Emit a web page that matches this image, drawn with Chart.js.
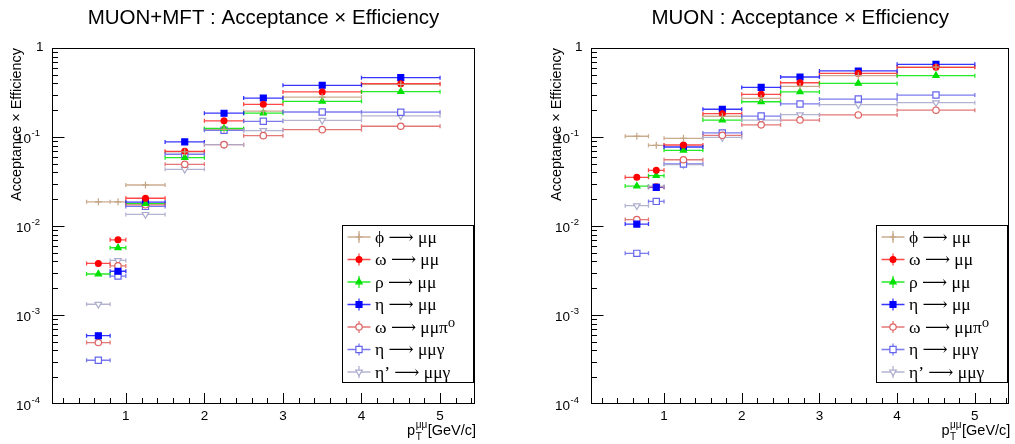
<!DOCTYPE html>
<html><head><meta charset="utf-8">
<script src="https://cdn.jsdelivr.net/npm/chart.js"></script>
<style>
html,body{margin:0;padding:0;background:#fff;width:1015px;height:444px;overflow:hidden}
.box{position:absolute;top:0;height:444px}
#b1{left:0;width:507px} #b2{left:507px;width:508px}
canvas{display:block}
</style></head><body>
<div class="box" id="b1"><canvas id="c1" width="507" height="444"></canvas></div>
<div class="box" id="b2"><canvas id="c2" width="508" height="444"></canvas></div>
<script>
// ---------- data ----------
const binEdges = [0.5, 0.8, 1.0, 1.5, 2.0, 2.5, 3.0, 4.0, 5.0];
const xTickValues = [1, 2, 3, 4, 5];
const yTickValues = [1e-4, 1e-3, 1e-2, 1e-1, 1];
const yTickLabels = ['10^{-4}', '10^{-3}', '10^{-2}', '10^{-1}', '1'];
const panelTitles = ['MUON+MFT : Acceptance \u00D7 Efficiency', 'MUON : Acceptance \u00D7 Efficiency'];
const yAxisTitle = 'Acceptance \u00D7 Efficiency';
const speciesLabels = ['\u03D5 \u27F6 \u03BC\u03BC', '\u03C9 \u27F6 \u03BC\u03BC', '\u03C1 \u27F6 \u03BC\u03BC', '\u03B7 \u27F6 \u03BC\u03BC',
  '\u03C9 \u27F6 \u03BC\u03BC\u03C0\u2070', '\u03B7 \u27F6 \u03BC\u03BC\u03B3', '\u03B7\u2019 \u27F6 \u03BC\u03BC\u03B3'];

// MUON+MFT
const mftPhi         = [0.0187, 0.0187, 0.0289, 0.068, 0.122, 0.195, 0.281, 0.39];
const mftOmega       = [0.0038, 0.0070, 0.0205, 0.069, 0.152, 0.233, 0.321, 0.397];
const mftRho         = [0.00289, 0.0057, 0.0178, 0.0585, 0.125, 0.185, 0.252, 0.323];
const mftEta         = [0.000585, 0.0031, 0.0185, 0.088, 0.185, 0.274, 0.381, 0.464];
const mftOmegaDalitz = [0.00049, 0.00356, 0.0173, 0.0493, 0.082, 0.1035, 0.121, 0.132];
const mftEtaDalitz   = [0.00031, 0.00274, 0.0166, 0.064, 0.119, 0.150, 0.191, 0.19];
const mftEtaPrime    = [0.00132, 0.0041, 0.0135, 0.0433, 0.082, 0.118, 0.154, 0.173];
// MUON
const muPhi          = [0.102, 0.0807, 0.0966, 0.171, 0.272, 0.371, 0.489, 0.61];
const muOmega        = [0.0352, 0.0422, 0.0813, 0.183, 0.302, 0.407, 0.52, 0.607];
const muRho          = [0.0281, 0.0368, 0.0709, 0.155, 0.249, 0.321, 0.40, 0.489];
const muEta          = [0.0105, 0.0272, 0.0772, 0.205, 0.361, 0.472, 0.552, 0.656];
const muOmegaDalitz  = [0.0118, 0.0275, 0.0555, 0.1045, 0.137, 0.155, 0.177, 0.2];
const muEtaDalitz    = [0.00493, 0.0189, 0.0497, 0.111, 0.172, 0.235, 0.267, 0.296];
const muEtaPrime     = [0.0169, 0.028, 0.049, 0.099, 0.155, 0.178, 0.231, 0.243];

// ---------- styles ----------
const seriesStyles = [
  {color:'rgb(196,164,132)', line:'rgba(196,164,132,0.9)', style:'cross', r:3.5, rot:0, fill:false},
  {color:'rgb(255,0,0)',     line:'rgba(255,40,40,0.85)',  style:'circle', r:2.9, rot:0, fill:true},
  {color:'rgb(0,225,0)',     line:'rgba(0,230,0,0.85)',    style:'triangle', r:3.6, rot:0, fill:true},
  {color:'rgb(0,0,255)',     line:'rgba(20,20,255,0.85)',  style:'rect', r:4.2, rot:0, fill:true},
  {color:'rgb(222,96,96)',   line:'rgba(222,96,96,0.85)',  style:'circle', r:3.2, rot:0, fill:false},
  {color:'rgb(100,100,235)', line:'rgba(100,100,235,0.85)',style:'rect', r:4.4, rot:0, fill:false},
  {color:'rgb(172,172,205)', line:'rgba(172,172,205,0.9)', style:'triangle', r:3.8, rot:180, fill:false}
];
const FONT = "'Liberation Sans', Arial, Helvetica, sans-serif";
const SERIF = "'Liberation Serif', 'DejaVu Serif', 'Times New Roman', serif";

function toPoints(vals){ return vals.map((v,i)=>({x:(binEdges[i]+binEdges[i+1])/2, y:v})); }

function drawMarker(ctx, st, x, y){
  ctx.save();
  ctx.strokeStyle = st.color; ctx.fillStyle = st.fill ? st.color : '#fff'; ctx.lineWidth = 1.2;
  const opts = {pointStyle: st.style, rotation: st.rot, radius: st.r, borderWidth: 1.2};
  if (window.Chart && Chart.helpers && Chart.helpers.drawPoint) {
    Chart.helpers.drawPoint(ctx, opts, x, y);
  } else {
    ctx.beginPath(); ctx.arc(x, y, st.r, 0, Math.PI*2); ctx.fill(); ctx.stroke();
  }
  ctx.restore();
}

const errBars = {
  id:'errBars',
  beforeDatasetsDraw(chart){
    const {ctx, chartArea:a, scales:{x, y}} = chart;
    ctx.save();
    ctx.beginPath(); ctx.rect(a.left, a.top, a.right-a.left, a.bottom-a.top); ctx.clip();
    chart.data.datasets.forEach((ds, di)=>{
      const st = seriesStyles[di];
      ctx.strokeStyle = st.line; ctx.lineWidth = 1.3;
      ctx.beginPath();
      ds.data.forEach((p, i)=>{
        const x0 = x.getPixelForValue(binEdges[i]), x1 = x.getPixelForValue(binEdges[i+1]);
        const py = y.getPixelForValue(p.y);
        ctx.moveTo(x0, py); ctx.lineTo(x1, py);
        ctx.moveTo(x0, py-2); ctx.lineTo(x0, py+2);
        ctx.moveTo(x1, py-2); ctx.lineTo(x1, py+2);
      });
      ctx.stroke();
    });
    ctx.restore();
  }
};

const frameTicks = {
  id:'frameTicks',
  afterDraw(chart){
    const {ctx, chartArea:a, scales:{x, y}} = chart;
    ctx.save();
    ctx.strokeStyle = '#000'; ctx.lineWidth = 1;
    const L = Math.round(a.left)+0.5, T = Math.round(a.top)+0.5, R = Math.round(a.right)-0.5, B = Math.round(a.bottom)-0.5;
    ctx.strokeRect(L, T, R-L, B-T);
    ctx.beginPath();
    for (let k = Math.ceil(x.min/0.2 - 1e-9); k*0.2 <= x.max + 1e-9; k++){
      const v = k*0.2;
      const px = Math.round(x.getPixelForValue(v)) + 0.5;
      const major = Math.abs(v - Math.round(v)) < 1e-6;
      ctx.moveTo(px, B); ctx.lineTo(px, B - (major ? 10.5 : 5.5));
    }
    for (let n = -4; n < 0; n++) for (let m = 1; m < 10; m++){
      const v = m * Math.pow(10, n);
      if (n === -4 && m === 1) continue;
      const py = Math.round(y.getPixelForValue(v)) + 0.5;
      ctx.moveTo(L, py); ctx.lineTo(L + (m === 1 ? 12 : 5.5), py);
    }
    ctx.stroke();
    // y tick labels (10^{n} with raised exponent), placed through the y scale
    ctx.fillStyle = '#000'; ctx.textBaseline = 'middle'; ctx.textAlign = 'right';
    yTickValues.forEach((v, i)=>{
      const py = y.getPixelForValue(v);
      const lab = yTickLabels[i];
      const m = lab.match(/^(.*)\^\{(.*)\}$/);
      if (m) {
        ctx.font = '9.5px ' + FONT;
        const ew = ctx.measureText(m[2]).width;
        const xr = a.left - 12;
        ctx.fillText(m[2], xr, py - 4);
        ctx.font = '13.5px ' + FONT;
        ctx.fillText(m[1], xr - ew - 0.5, py + 2);
      } else {
        ctx.font = '13.5px ' + FONT;
        ctx.fillText(lab, a.left - 8.5, py - 0.5);
      }
    });
    ctx.restore();
  }
};

const boxLegend = {
  id:'boxLegend',
  afterDraw(chart){
    const {ctx, chartArea:a} = chart;
    const bx = Math.round(a.right) - 132.5, by = Math.round(a.bottom) - 178.5, bw = 131, bh = 157;
    ctx.save();
    ctx.fillStyle = '#fff'; ctx.fillRect(bx, by, bw, bh);
    ctx.strokeStyle = '#000'; ctx.lineWidth = 1; ctx.strokeRect(bx, by, bw, bh);
    ctx.font = '17.5px ' + SERIF; ctx.textBaseline = 'middle'; ctx.fillStyle = '#000';
    chart.data.datasets.forEach((ds, i)=>{
      const st = seriesStyles[i];
      const cy = by + 11.5 + i*22.5, cx = bx + 16.5;
      ctx.strokeStyle = st.line; ctx.lineWidth = 1.3;
      ctx.beginPath(); ctx.moveTo(cx-11.5, cy); ctx.lineTo(cx+11.5, cy);
      ctx.moveTo(cx, cy-6); ctx.lineTo(cx, cy+6); ctx.stroke();
      drawMarker(ctx, st, cx, cy);
      ctx.fillStyle = '#000';
      ctx.fillText(ds.label, bx + 32.5, cy + 1);
    });
    ctx.restore();
  }
};

const xTitle = {
  id:'xTitle',
  afterDraw(chart){
    const {ctx, chartArea:a} = chart;
    ctx.save(); ctx.fillStyle = '#000'; ctx.textBaseline = 'alphabetic';
    const big = '14.5px ' + FONT, small = '10px ' + FONT;
    ctx.font = big; const wMain = ctx.measureText('[GeV/c]').width; const wp = ctx.measureText('p').width;
    ctx.font = small; const wS = Math.max(ctx.measureText('\u03BC\u03BC').width, ctx.measureText('T').width);
    const right = a.right + 1, base = a.bottom + 30.5;
    const xMain = right - wMain, xS = xMain - wS - 0.5, xp = xS - wp - 0.5;
    ctx.font = big; ctx.fillText('p', xp, base); ctx.fillText('[GeV/c]', xMain, base);
    ctx.font = small; ctx.fillText('\u03BC\u03BC', xS, base - 6.5); ctx.fillText('T', xS, base + 5);
    ctx.restore();
  }
};

function makeChart(id, title, series, padL, padR, yWidth){
  const datasets = series.map((vals, i)=>{
    const st = seriesStyles[i];
    return {
      label: speciesLabels[i], data: toPoints(vals), showLine:false,
      pointStyle: st.style, pointRadius: st.r, pointHoverRadius: st.r, pointRotation: st.rot,
      pointBorderColor: st.color, pointBackgroundColor: st.fill ? st.color : '#fff', pointBorderWidth: 1.2
    };
  });
  return new Chart(document.getElementById(id), {
    type:'scatter',
    data:{datasets},
    plugins:[errBars, frameTicks, boxLegend, xTitle],
    options:{
      responsive:false, animation:false, devicePixelRatio:1,
      layout:{padding:{left:padL, right:padR, top:0, bottom:0}},
      plugins:{
        legend:{display:false}, tooltip:{enabled:false},
        title:{display:true, text:title, fullSize:false, color:'#000',
          font:{family:FONT, size:20.5, weight:'normal', lineHeight:1.2}, padding:{top:6.5, bottom:16.9}}
      },
      scales:{
        x:{type:'linear', min:0.06, max:5.445,
          afterBuildTicks: s => { s.ticks = xTickValues.map(v=>({value:v})); },
          afterFit: s => { s.height = 40; },
          grid:{display:false}, border:{display:false},
          ticks:{color:'#000', font:{family:FONT, size:13.5}, padding:-4, maxRotation:0, autoSkip:false, callback:(v)=>String(v)}
        },
        y:{type:'logarithmic', min:1e-4, max:1,
          afterBuildTicks: s => { s.ticks = yTickValues.map(v=>({value:v})); },
          afterFit: s => { s.width = yWidth; },
          grid:{display:false}, border:{display:false},
          ticks:{display:false},
          title:{display:true, text:yAxisTitle, align:'end', color:'#000',
            font:{family:FONT, size:14.4, weight:'normal', lineHeight:1.2}, padding:{top:8.5, bottom:0}}
        }
      }
    }
  });
}

makeChart('c1', panelTitles[0], [mftPhi, mftOmega, mftRho, mftEta, mftOmegaDalitz, mftEtaDalitz, mftEtaPrime], 0, 32, 52);
makeChart('c2', panelTitles[1], [muPhi, muOmega, muRho, muEta, muOmegaDalitz, muEtaDalitz, muEtaPrime], 33, 2, 51);
</script>
</body></html>
